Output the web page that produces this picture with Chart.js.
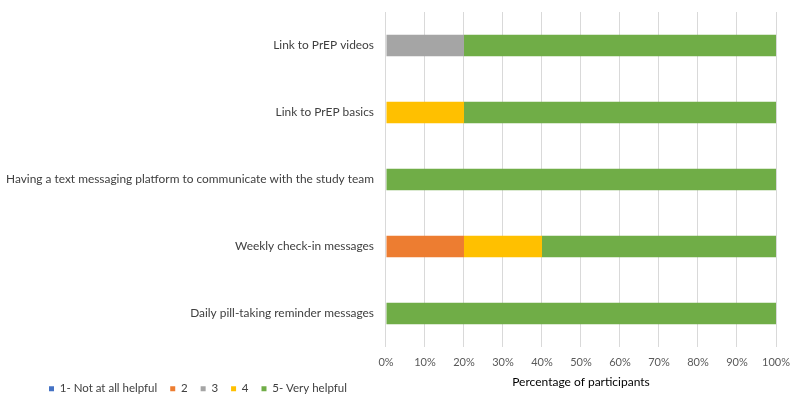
<!DOCTYPE html>
<html lang="en">
<head>
<meta charset="UTF-8">
<title>Helpfulness ratings</title>
<script src="https://cdn.jsdelivr.net/npm/chart.js@4.4.0/dist/chart.umd.min.js"></script>
<style>
  html, body { margin: 0; padding: 0; background: #fff; }
  #wrap { width: 800px; height: 404px; }
</style>
</head>
<body>
<div id="wrap"><canvas id="c"></canvas></div>
<script>
var categories = [
  "Link to PrEP videos",
  "Link to PrEP basics",
  "Having a text messaging platform to communicate with the study team",
  "Weekly check-in messages",
  "Daily pill-taking reminder messages"
];
var seriesNames = ["1- Not at all helpful", "2", "3", "4", "5- Very helpful"];
var rating1 = [0, 0, 0, 0, 0];
var rating2 = [0, 0, 0, 20, 0];
var rating3 = [20, 0, 0, 0, 0];
var rating4 = [0, 20, 0, 20, 0];
var rating5 = [80, 80, 100, 60, 100];
var colors = ["#4472C4", "#ED7D31", "#A5A5A5", "#FFC000", "#70AD47"];

var values = [rating1, rating2, rating3, rating4, rating5];
var datasets = seriesNames.map(function (name, i) {
  return {
    label: name,
    data: values[i],
    backgroundColor: colors[i],
    borderWidth: 0,
    barPercentage: 0.64,
    categoryPercentage: 0.5
  };
});

// legend sits bottom-left, level with the axis title, so move it by hand
var legendPlace = {
  id: "legendPlace",
  beforeDraw: function (chart) {
    var lg = chart.legend;
    if (!lg) return;
    var h = lg.bottom - lg.top;
    lg.left = 36; lg.right = 790;
    lg.top = 370; lg.bottom = 370 + h;
  }
};

new Chart(document.getElementById("c"), {
  type: "bar",
  data: { labels: categories, datasets: datasets },
  options: {
    indexAxis: "y",
    responsive: true,
    maintainAspectRatio: false,
    animation: false,
    layout: { padding: { left: 2, right: 24, top: 12, bottom: -23 } },
    scales: {
      x: {
        stacked: true,
        min: 0,
        max: 100,
        ticks: {
          stepSize: 10,
          padding: 9,
          color: "#595959",
          font: { family: "Lato", size: 11 },
          callback: function (v) { return v + "%"; }
        },
        grid: { color: "#d9d9d9", drawTicks: false },
        border: { display: false },
        title: {
          display: true,
          text: "Percentage of participants",
          color: "#000",
          font: { family: "Lato", size: 12 },
          padding: { top: -3, bottom: 3 }
        }
      },
      y: {
        stacked: true,
        grid: { display: false, drawTicks: true, tickLength: 8 },
        border: { display: false },
        ticks: {
          padding: 4,
          color: "#404040",
          font: { family: "Lato", size: 11.9 }
        }
      }
    },
    plugins: {
      legend: {
        position: "bottom",
        align: "start",
        labels: {
          boxWidth: 5,
          boxHeight: 5,
          padding: 13,
          color: "#404040",
          font: { family: "Lato", size: 11.5 }
        }
      },
      tooltip: { enabled: false }
    }
  },
  plugins: [legendPlace]
});
</script>
</body>
</html>
